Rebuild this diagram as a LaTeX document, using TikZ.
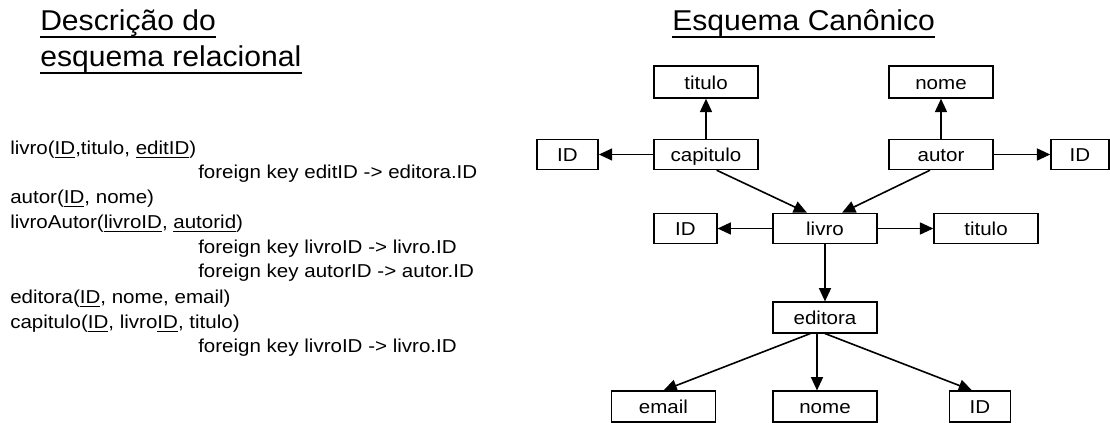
\documentclass[tikz,border=0pt]{standalone}
\usepackage{fontspec}
\usetikzlibrary{arrows.meta}
\newfontfamily\relfont[FakeStretch=1.1]{Liberation Sans}
\newfontfamily\headfont[FakeStretch=1.05]{Liberation Sans}
\newcommand{\und}[1]{\underline{#1}}
\begin{document}
\begin{tikzpicture}[x=0.75pt,y=-0.75pt]
    \tikzstyle{box}=[draw,shape=rectangle,line width=1.1pt,minimum width=78pt,minimum height=22.5pt,inner sep=0pt,text height=11pt,text depth=0pt,font=\relfont\fontsize{14}{16}\selectfont];
    \tikzstyle{small}=[box,minimum width=46pt];
    \tikzstyle{rel}=[anchor=base west,inner sep=0pt,font=\relfont\fontsize{14}{16}\selectfont];
    \tikzstyle{head}=[anchor=base west,inner sep=0pt,font=\headfont\fontsize{21.5}{26}\selectfont];
    \tikzstyle{arr}=[-{Triangle[length=10pt,width=9pt]},line width=1.2pt];
    \useasboundingbox[fill=white] (0,0) rectangle (1110,423);

    % titles
    \node at (40, 31)  (head1) [head] {Descrição do};
    \node at (40, 67)  (head2) [head] {esquema relacional};
    \node at (672, 31) (head3) [head] {Esquema Canônico};
    \draw[line width=1pt] ([yshift=-4.5pt]head1.base west) -- ([yshift=-4.5pt]head1.base east);
    \draw[line width=1pt] ([yshift=-4.5pt]head2.base west) -- ([yshift=-4.5pt]head2.base east);
    \draw[line width=1pt] ([yshift=-4.5pt]head3.base west) -- ([yshift=-4.5pt]head3.base east);

    % relational schema
    \node at (10, 155)  (r1) [rel] {livro(\und{ID},titulo, \und{editID})};
    \node at (198, 179) (r2) [rel] {foreign key editID -> editora.ID};
    \node at (10, 204)  (r3) [rel] {autor(\und{ID}, nome)};
    \node at (10, 229)  (r4) [rel] {livroAutor(\und{livroID}, \und{autorid})};
    \node at (198, 254) (r5) [rel] {foreign key livroID -> livro.ID};
    \node at (198, 278) (r6) [rel] {foreign key autorID -> autor.ID};
    \node at (10, 304)  (r7) [rel] {editora(\und{ID}, nome, email)};
    \node at (10, 329)  (r8) [rel] {capitulo(\und{ID}, livro\und{ID}, titulo)};
    \node at (198, 353) (r9) [rel] {foreign key livroID -> livro.ID};

    % canonical schema
    \node at (706, 82)      (titC)  [box,minimum height=24pt] {titulo};
    \node at (941, 82)      (nomeA) [box,minimum height=24pt] {nome};
    \node at (567.5, 154.5) (idC)   [small] {ID};
    \node at (706, 154.5)   (cap)   [box] {capitulo};
    \node at (941, 154.5)   (autor) [box] {autor};
    \node at (1080, 154.5)  (idA)   [small,minimum width=43.5pt] {ID};
    \node at (685.5, 228.5) (idL)   [small,minimum width=47pt] {ID};
    \node at (825, 228.5)   (livro) [box] {livro};
    \node at (986, 228.5)   (titL)  [box] {titulo};
    \node at (825, 317.5)   (edit)  [box,minimum height=23pt] {editora};
    \node at (663.5, 406.5) (email) [box,minimum height=23pt] {email};
    \node at (825, 406.5)   (nomeE) [box,minimum height=23pt] {nome};
    \node at (980, 406.5)   (idE)   [small,minimum height=23pt] {ID};

    \draw[arr] (cap) to (titC);
    \draw[arr] (cap) to (idC);
    \draw[arr] (autor) to (nomeA);
    \draw[arr] (autor) to (idA);
    \draw[arr] ([xshift=8pt]cap.south) to ([xshift=-13.5pt]livro.north);
    \draw[arr,{Triangle[length=10pt,width=9pt]}-] ([xshift=12.75pt]livro.north) to ([xshift=-8.25pt]autor.south);
    \draw[arr] (livro) to (idL);
    \draw[arr] (livro) to (titL);
    \draw[arr] (livro) to (edit);
    \draw[arr] ([xshift=-11pt]edit.south) to (email.north);
    \draw[arr] ([xshift=-6pt]edit.south) to ([xshift=-6pt]nomeE.north);
    \draw[arr] (edit.south) to ([xshift=-6pt]idE.north);
\end{tikzpicture}
\end{document}
